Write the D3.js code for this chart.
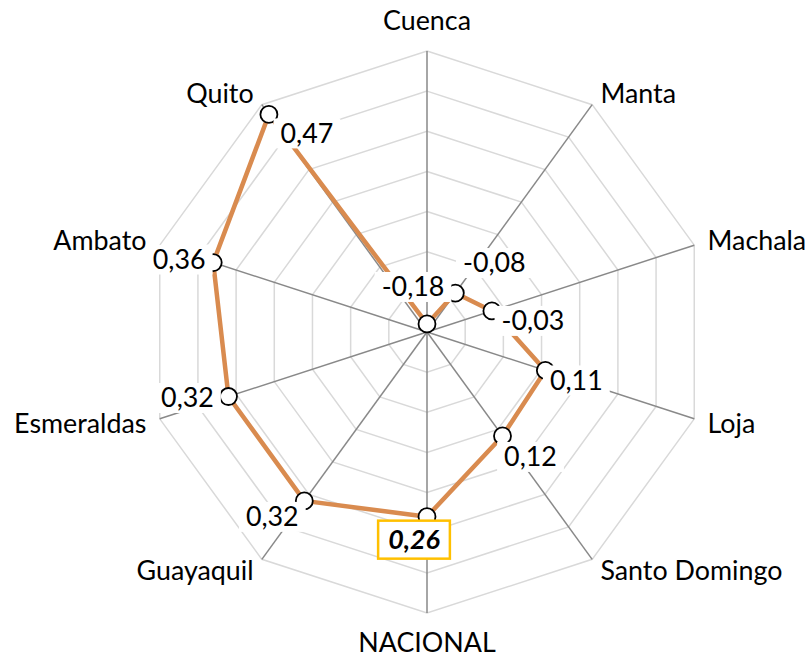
<!DOCTYPE html>
<html>
<head>
<meta charset="utf-8">
<script src="https://cdn.jsdelivr.net/npm/d3@7"></script>
<style>
  html, body { margin: 0; padding: 0; background: #fff; }
  svg { display: block; }
</style>
</head>
<body>
<svg id="chart" width="808" height="657"></svg>
<script>
// ---- data ----
const categories = ["Cuenca", "Manta", "Machala", "Loja", "Santo Domingo", "NACIONAL", "Guayaquil", "Esmeraldas", "Ambato", "Quito"];
const values = [-0.18, -0.08, -0.03, 0.11, 0.12, 0.26, 0.32, 0.32, 0.36, 0.47];
const valueLabels = ["-0,18", "-0,08", "-0,03", "0,11", "0,12", "0,26", "0,32", "0,32", "0,36", "0,47"];
const ringTicks = [-0.2, -0.1, 0, 0.1, 0.2, 0.3, 0.4, 0.5];
const highlighted = ["NACIONAL"];

// ---- layout (not data) ----
const labelOffsets = [[-14, -37], [39, -30], [41, 10], [31, 10], [28, 21], [-13, 23], [-32, 16], [-41, 1.5], [-34, -3], [38, 19]];
const cx = 427, cy = 332, R = 281;
const fontFamily = "Lato, 'Open Sans', sans-serif";

const svg = d3.select("#chart");

// calibrate font size so text width resembles the original
const probe = svg.append("text").attr("font-family", fontFamily).attr("font-size", 28).text("Santo Domingo");
const w = probe.node().getComputedTextLength();
probe.remove();
const fs = 28 * 182 / w;

const r = d3.scaleLinear().domain([ringTicks[0], ringTicks[ringTicks.length - 1]]).range([0, R]);
const angle = d3.scalePoint().domain(categories.concat(["__end"])).range([0, 2 * Math.PI]);
const pt = (cat, rad) => {
  const a = angle(cat);
  return [cx + rad * Math.sin(a), cy - rad * Math.cos(a)];
};

// rings
const gGrid = svg.append("g");
ringTicks.slice(1).forEach(t => {
  const pts = categories.map(c => pt(c, r(t)));
  gGrid.append("path")
    .attr("d", d3.line().curve(d3.curveLinearClosed)(pts))
    .attr("fill", "none").attr("stroke", "#d9d9d9").attr("stroke-width", 1.5);
});
// spokes
categories.forEach(c => {
  const [x, y] = pt(c, R);
  gGrid.append("line").attr("x1", cx).attr("y1", cy).attr("x2", x).attr("y2", y)
    .attr("stroke", "#898989").attr("stroke-width", 1.5);
});

// category labels
categories.forEach(c => {
  const a = angle(c);
  const s = Math.sin(a), co = Math.cos(a);
  let [x, y] = pt(c, R + 14);
  let anchor = s > 0.1 ? "start" : (s < -0.1 ? "end" : "middle");
  if (Math.abs(s) < 0.1) y -= co * 16;
  svg.append("text")
    .attr("x", x).attr("y", y).attr("dy", "0.35em")
    .attr("text-anchor", anchor)
    .attr("font-family", fontFamily).attr("font-size", fs).attr("fill", "#000")
    .text(c);
});

// series line
const linePts = categories.map((c, i) => pt(c, r(values[i])));
svg.append("path")
  .attr("d", d3.line().curve(d3.curveLinearClosed)(linePts))
  .attr("fill", "none").attr("stroke", "#D98B4F").attr("stroke-width", 4.5)
  .attr("stroke-linejoin", "round");

// markers
svg.append("g").selectAll("circle").data(linePts).join("circle")
  .attr("cx", d => d[0]).attr("cy", d => d[1]).attr("r", 8.5)
  .attr("fill", "#fff").attr("stroke", "#000").attr("stroke-width", 1.8);

// data labels
categories.forEach((c, i) => {
  const [mx, my] = linePts[i];
  const lx = mx + labelOffsets[i][0], ly = my + labelOffsets[i][1];
  const hl = highlighted.includes(c);
  const g = svg.append("g");
  const rect = g.append("rect");
  const t = g.append("text")
    .attr("x", lx).attr("y", ly).attr("dy", "0.35em")
    .attr("text-anchor", "middle")
    .attr("font-family", fontFamily).attr("font-size", fs)
    .attr("font-weight", hl ? "bold" : "normal")
    .attr("font-style", hl ? "italic" : "normal")
    .attr("fill", "#000")
    .text(valueLabels[i]);
  const tw = t.node().getComputedTextLength();
  const padX = hl ? 10 : 7, h = hl ? 38 : 30;
  rect.attr("x", lx - tw / 2 - padX).attr("y", ly - h / 2)
    .attr("width", tw + 2 * padX).attr("height", h)
    .attr("fill", "#fff")
    .attr("stroke", hl ? "#FFC000" : "none").attr("stroke-width", hl ? 2.5 : 0);
});
</script>
</body>
</html>
